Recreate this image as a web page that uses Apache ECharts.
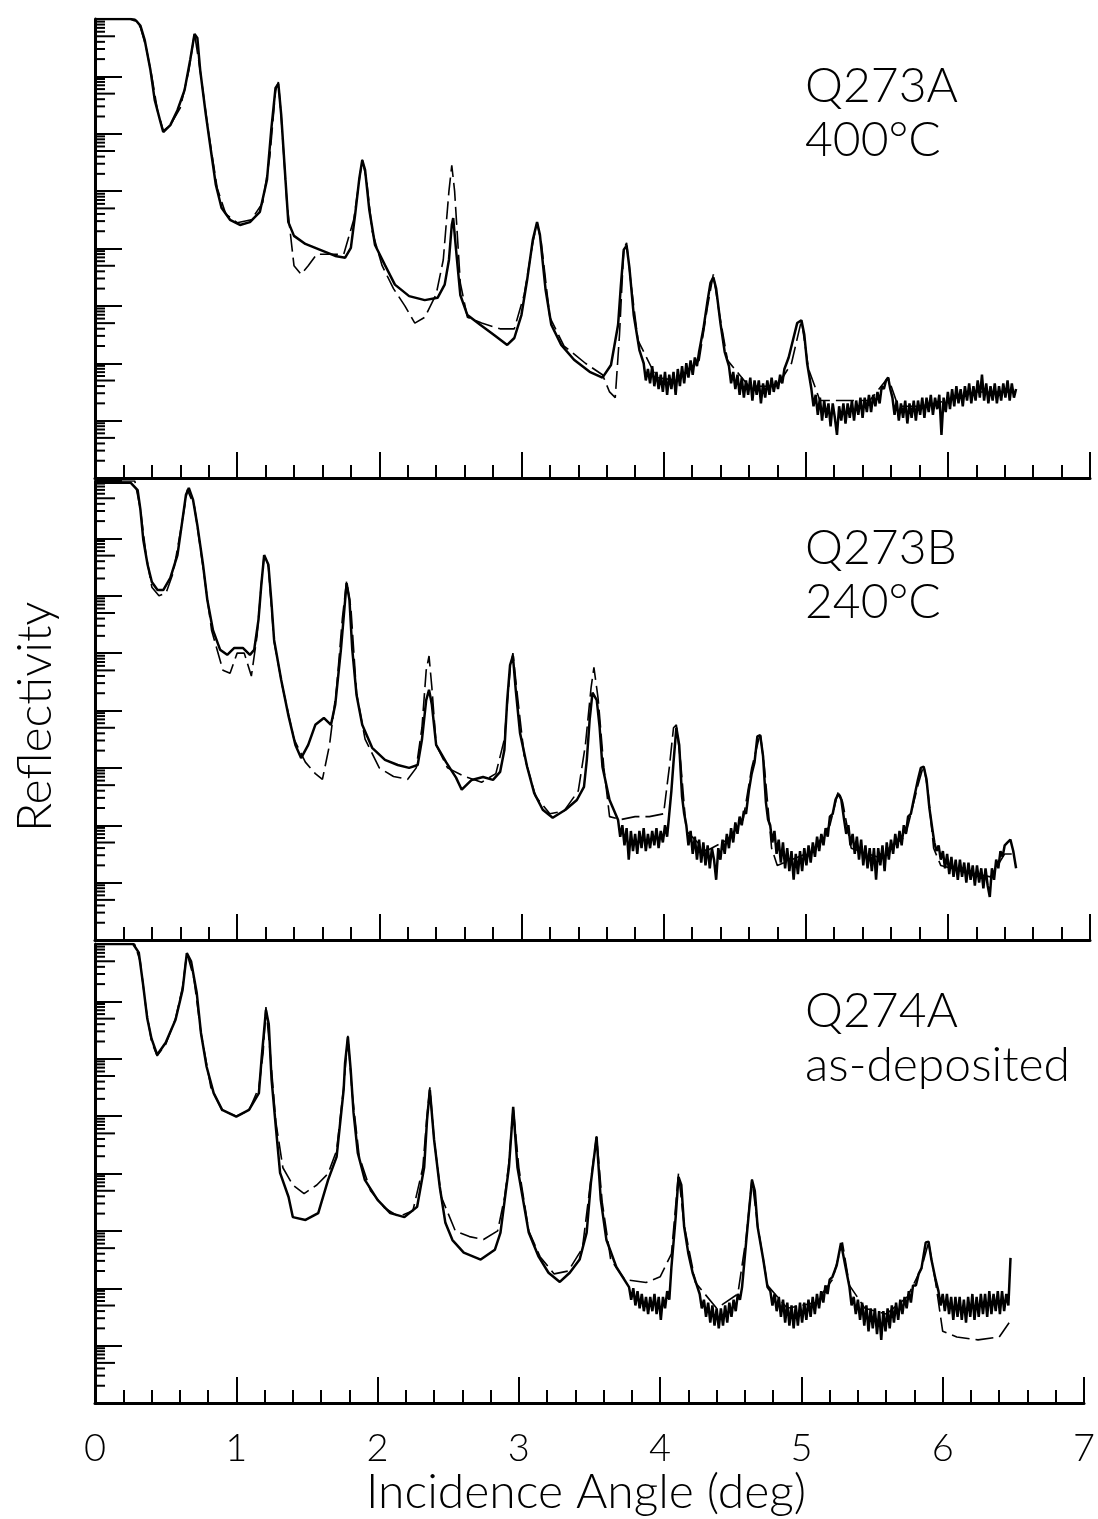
<!DOCTYPE html>
<html>
<head>
<meta charset="utf-8">
<script src="https://cdn.jsdelivr.net/npm/echarts@6/dist/echarts.min.js"></script>
<style>
  html, body { margin: 0; padding: 0; background: #fff; }
  #chart { width: 1098px; height: 1519px; }
</style>
</head>
<body>
<div id="chart"></div>
<script>
// values are log10(reflectivity), x in degrees

var xTickLabels = ['0', '1', '2', '3', '4', '5', '6', '7'];
var sampleNames = ['Q273A', 'Q273B', 'Q274A'];
var sampleNotes = ['400°C', '240°C', 'as-deposited'];

// Q273A 400C - measured
var q273aData = [
  [0.00,0.00],[0.14,0.00],[0.25,0.00],[0.29,-0.03],[0.32,-0.12],[0.35,-0.37],[0.39,-0.89],[0.42,-1.41],[0.46,-1.79],[0.48,-1.97],
  [0.53,-1.85],[0.58,-1.59],[0.63,-1.24],[0.67,-0.71],[0.70,-0.26],[0.72,-0.33],[0.74,-0.89],[0.78,-1.67],[0.82,-2.37],[0.85,-2.89],
  [0.89,-3.29],[0.95,-3.50],[1.02,-3.59],[1.09,-3.54],[1.16,-3.36],[1.21,-2.80],[1.24,-1.93],[1.27,-1.20],[1.29,-1.13],[1.31,-1.67],
  [1.34,-2.80],[1.36,-3.54],[1.40,-3.78],[1.48,-3.92],[1.58,-4.02],[1.69,-4.13],[1.76,-4.16],[1.80,-3.99],[1.83,-3.41],[1.86,-2.77],
  [1.88,-2.46],[1.90,-2.63],[1.93,-3.33],[1.97,-3.94],[2.04,-4.29],[2.11,-4.63],[2.21,-4.83],[2.32,-4.90],[2.41,-4.86],[2.46,-4.63],
  [2.49,-4.20],[2.51,-3.59],[2.52,-3.47],[2.54,-4.02],[2.57,-4.81],[2.62,-5.16],[2.71,-5.33],[2.81,-5.51],[2.90,-5.68],[2.95,-5.56],
  [3.00,-5.16],[3.04,-4.55],[3.08,-3.85],[3.11,-3.54],[3.13,-3.76],[3.17,-4.72],[3.21,-5.33],[3.28,-5.68],[3.37,-5.94],[3.48,-6.15],
  [3.57,-6.25],[3.63,-6.03],[3.68,-5.33],[3.70,-4.63],[3.72,-4.02],[3.74,-3.95],[3.76,-4.34],[3.79,-5.16],[3.83,-5.77],
  [3.86,-6.00],[3.875,-6.30],[3.89,-6.10],[3.905,-6.35],[3.92,-6.05],[3.935,-6.40],[3.95,-6.15],[3.965,-6.45],[3.98,-6.20],[3.995,-6.50],
  [4.01,-6.15],[4.025,-6.55],[4.04,-6.20],[4.055,-6.45],[4.07,-6.15],[4.085,-6.55],[4.10,-6.10],[4.115,-6.40],[4.13,-6.05],[4.145,-6.35],
  [4.16,-6.00],[4.175,-6.25],[4.19,-5.95],[4.205,-6.20],[4.22,-5.90],[4.235,-6.05],[4.25,-5.80],[4.28,-5.40],[4.31,-4.90],[4.33,-4.60],
  [4.35,-4.50],[4.37,-4.70],[4.40,-5.30],[4.43,-5.80],
  [4.46,-6.05],[4.475,-6.35],[4.49,-6.15],[4.505,-6.45],[4.52,-6.20],[4.535,-6.55],[4.55,-6.25],[4.565,-6.60],[4.58,-6.30],[4.595,-6.55],
  [4.61,-6.25],[4.625,-6.65],[4.64,-6.30],[4.655,-6.55],[4.67,-6.30],[4.685,-6.70],[4.70,-6.35],[4.715,-6.60],[4.73,-6.30],[4.745,-6.55],
  [4.76,-6.25],[4.775,-6.50],[4.79,-6.30],[4.805,-6.45],[4.82,-6.20],[4.835,-6.35],[4.85,-6.10],[4.88,-5.90],[4.91,-5.60],[4.94,-5.30],
  [4.97,-5.25],[4.99,-5.50],[5.01,-6.00],
  [5.04,-6.45],[5.055,-6.75],[5.07,-6.55],[5.085,-6.90],[5.10,-6.60],[5.115,-7.00],[5.13,-6.65],[5.145,-6.95],[5.16,-6.70],[5.175,-7.10],
  [5.19,-6.70],[5.205,-6.95],[5.22,-7.25],[5.235,-6.75],[5.25,-7.00],[5.265,-6.70],[5.28,-7.05],[5.295,-6.70],[5.31,-6.95],[5.325,-6.65],
  [5.34,-7.00],[5.355,-6.65],[5.37,-6.90],[5.385,-6.60],[5.40,-6.95],[5.415,-6.60],[5.43,-6.85],[5.445,-6.55],[5.46,-6.85],[5.475,-6.55],
  [5.49,-6.75],[5.505,-6.50],[5.52,-6.70],[5.535,-6.40],[5.55,-6.45],[5.565,-6.30],[5.58,-6.25],[5.595,-6.45],[5.61,-6.60],[5.625,-6.90],
  [5.64,-6.65],[5.655,-7.00],[5.67,-6.70],[5.685,-6.95],[5.70,-6.65],[5.715,-7.05],[5.73,-6.70],[5.745,-6.95],[5.76,-6.65],[5.775,-7.00],
  [5.79,-6.65],[5.805,-6.90],[5.82,-6.60],[5.835,-6.95],[5.85,-6.60],[5.865,-6.85],[5.88,-6.55],[5.895,-6.90],[5.91,-6.60],[5.925,-6.80],
  [5.94,-6.55],[5.955,-7.25],[5.97,-6.60],[5.985,-6.85],[6.00,-6.50],[6.015,-6.80],[6.03,-6.45],[6.045,-6.75],[6.06,-6.40],[6.075,-6.70],
  [6.09,-6.45],[6.105,-6.75],[6.12,-6.40],[6.135,-6.65],[6.15,-6.35],[6.165,-6.70],[6.18,-6.40],[6.195,-6.65],[6.21,-6.30],[6.225,-6.60],
  [6.24,-6.20],[6.255,-6.65],[6.27,-6.35],[6.285,-6.70],[6.30,-6.40],[6.315,-6.65],[6.33,-6.35],[6.345,-6.70],[6.36,-6.40],[6.375,-6.65],
  [6.39,-6.35],[6.405,-6.60],[6.42,-6.30],[6.435,-6.65],[6.45,-6.35],[6.465,-6.60],[6.48,-6.45]
];

// Q273A 400C - fit
var q273aFit = [
  [0.00,0.00],[0.28,0.00],[0.32,-0.15],[0.36,-0.50],[0.40,-1.00],[0.44,-1.60],[0.48,-1.95],[0.53,-1.85],[0.60,-1.55],[0.66,-0.90],
  [0.70,-0.25],[0.74,-0.90],[0.80,-2.00],[0.86,-2.95],[0.92,-3.40],[1.00,-3.55],[1.10,-3.50],[1.18,-3.20],[1.23,-2.40],[1.27,-1.25],
  [1.29,-1.10],[1.31,-1.70],[1.35,-3.20],[1.40,-4.30],[1.45,-4.45],[1.50,-4.30],[1.56,-4.10],[1.65,-4.10],[1.75,-4.10],[1.82,-3.50],
  [1.86,-2.80],[1.88,-2.45],[1.91,-2.80],[1.95,-3.70],[2.02,-4.30],[2.10,-4.70],[2.18,-5.00],[2.25,-5.30],[2.32,-5.20],[2.40,-4.80],
  [2.45,-4.20],[2.49,-3.00],[2.51,-2.55],[2.53,-3.00],[2.57,-4.60],[2.62,-5.20],[2.72,-5.30],[2.85,-5.40],[2.95,-5.40],[3.02,-4.80],
  [3.08,-3.90],[3.11,-3.55],[3.14,-3.90],[3.20,-5.20],[3.30,-5.70],[3.45,-6.00],[3.57,-6.20],[3.62,-6.50],[3.66,-6.60],[3.69,-5.50],
  [3.72,-4.00],[3.74,-3.90],[3.77,-4.60],[3.82,-5.60],[3.95,-6.25],[4.10,-6.30],[4.25,-5.95],[4.31,-5.00],[4.35,-4.45],[4.39,-5.10],
  [4.45,-5.95],[4.60,-6.40],[4.80,-6.40],[4.90,-6.00],[4.97,-5.25],[5.02,-6.10],[5.10,-6.65],[5.20,-6.65],[5.30,-6.65],[5.45,-6.65],
  [5.58,-6.25],[5.65,-6.75],[5.80,-6.75],[6.00,-6.65],[6.20,-6.50],[6.47,-6.50]
];

// Q273B 240C - measured
var q273bData = [
  [0.00,-0.03],[0.25,-0.03],[0.30,-0.16],[0.32,-0.51],[0.34,-1.03],[0.37,-1.46],[0.40,-1.76],[0.44,-1.90],[0.48,-1.90],[0.53,-1.69],
  [0.58,-1.29],[0.61,-0.77],[0.64,-0.24],[0.66,-0.12],[0.69,-0.33],[0.72,-0.77],[0.76,-1.46],[0.79,-2.07],[0.83,-2.60],[0.88,-2.94],
  [0.93,-3.03],[0.98,-2.91],[1.04,-2.91],[1.09,-3.03],[1.12,-2.94],[1.15,-2.42],[1.17,-1.81],[1.19,-1.29],[1.22,-1.46],[1.24,-2.07],
  [1.26,-2.77],[1.31,-3.47],[1.36,-4.08],[1.41,-4.60],[1.45,-4.83],[1.50,-4.60],[1.55,-4.25],[1.61,-4.13],[1.66,-4.25],[1.69,-3.90],
  [1.73,-2.94],[1.76,-2.07],[1.77,-1.78],[1.79,-2.07],[1.81,-2.94],[1.84,-3.73],[1.88,-4.25],[1.95,-4.65],[2.04,-4.86],[2.13,-4.95],
  [2.21,-5.00],[2.27,-4.95],[2.30,-4.51],[2.33,-3.82],[2.35,-3.64],[2.37,-3.90],[2.40,-4.60],[2.47,-4.90],[2.54,-5.17],[2.58,-5.38],
  [2.65,-5.21],[2.73,-5.16],[2.80,-5.21],[2.85,-5.07],[2.88,-4.69],[2.90,-3.82],[2.92,-3.21],[2.94,-3.05],[2.96,-3.64],[2.99,-4.39],
  [3.04,-4.98],[3.09,-5.44],[3.15,-5.73],[3.22,-5.87],[3.31,-5.73],[3.39,-5.56],[3.44,-5.33],[3.46,-4.86],[3.48,-4.16],[3.50,-3.69],
  [3.53,-3.82],[3.55,-4.29],[3.57,-4.98],[3.62,-5.56],
  [3.68,-5.91],[3.695,-6.20],[3.71,-6.00],[3.725,-6.35],[3.74,-6.05],[3.755,-6.60],[3.77,-6.10],[3.785,-6.45],[3.80,-6.15],[3.815,-6.50],
  [3.83,-6.10],[3.845,-6.40],[3.86,-6.05],[3.875,-6.45],[3.89,-6.15],[3.905,-6.40],[3.92,-6.10],[3.935,-6.35],[3.95,-6.05],[3.965,-6.40],
  [3.98,-6.10],[3.995,-6.30],[4.01,-6.00],[4.025,-6.20],[4.04,-5.80],[4.055,-5.40],[4.07,-4.90],[4.09,-4.30],[4.11,-4.60],[4.13,-5.50],
  [4.145,-5.80],
  [4.16,-6.00],[4.175,-6.35],[4.19,-6.10],[4.205,-6.50],[4.22,-6.20],[4.235,-6.60],[4.25,-6.25],[4.265,-6.65],[4.28,-6.30],[4.295,-6.70],
  [4.31,-6.35],[4.325,-6.75],[4.34,-6.40],[4.355,-6.60],[4.37,-6.95],[4.385,-6.40],[4.40,-6.60],[4.415,-6.25],[4.43,-6.50],[4.445,-6.15],
  [4.46,-6.40],[4.475,-6.05],[4.49,-6.30],[4.505,-5.95],[4.52,-6.15],[4.535,-5.85],[4.55,-6.00],[4.565,-5.75],[4.58,-5.80],[4.60,-5.40],
  [4.62,-5.10],[4.64,-4.90],[4.66,-4.45],[4.68,-4.43],[4.70,-4.80],[4.72,-5.60],[4.735,-5.90],
  [4.75,-6.00],[4.765,-6.30],[4.78,-6.10],[4.795,-6.50],[4.81,-6.25],[4.825,-6.65],[4.84,-6.30],[4.855,-6.75],[4.87,-6.40],[4.885,-6.80],
  [4.90,-6.45],[4.915,-6.95],[4.93,-6.50],[4.945,-6.85],[4.96,-6.45],[4.975,-6.80],[4.99,-6.40],[5.005,-6.70],[5.02,-6.35],[5.035,-6.65],
  [5.05,-6.30],[5.065,-6.55],[5.08,-6.20],[5.095,-6.45],[5.11,-6.15],[5.125,-6.35],[5.14,-6.05],[5.155,-6.20],[5.17,-5.85],[5.19,-5.80],
  [5.21,-5.55],[5.23,-5.45],[5.25,-5.55],[5.27,-5.90],[5.285,-6.15],
  [5.30,-6.00],[5.315,-6.35],[5.33,-6.15],[5.345,-6.50],[5.36,-6.20],[5.375,-6.60],[5.39,-6.25],[5.405,-6.70],[5.42,-6.35],[5.435,-6.75],
  [5.45,-6.40],[5.465,-6.80],[5.48,-6.40],[5.495,-6.95],[5.51,-6.40],[5.525,-6.70],[5.54,-6.35],[5.555,-6.80],[5.57,-6.30],[5.585,-6.60],
  [5.60,-6.25],[5.615,-6.50],[5.63,-6.15],[5.645,-6.40],[5.66,-6.10],[5.675,-6.35],[5.69,-6.00],[5.705,-6.15],[5.72,-5.85],[5.74,-5.80],
  [5.76,-5.55],[5.79,-5.20],[5.81,-5.00],[5.83,-4.98],[5.85,-5.20],[5.87,-5.70],[5.89,-6.05],
  [5.905,-6.30],[5.92,-6.45],[5.935,-6.35],[5.95,-6.60],[5.965,-6.45],[5.98,-6.75],[5.995,-6.50],[6.01,-6.85],[6.025,-6.55],[6.04,-6.90],
  [6.055,-6.60],[6.07,-6.95],[6.085,-6.60],[6.10,-6.90],[6.115,-6.65],[6.13,-7.00],[6.145,-6.65],[6.16,-6.95],[6.175,-6.70],[6.19,-7.05],
  [6.205,-6.70],[6.22,-7.00],[6.235,-6.75],[6.25,-7.10],[6.265,-6.75],[6.28,-7.05],[6.295,-7.25],[6.31,-6.75],[6.325,-6.95],[6.34,-6.60],
  [6.355,-6.75],[6.37,-6.45],[6.385,-6.55],[6.40,-6.35],[6.42,-6.30],[6.44,-6.25],[6.46,-6.45],[6.48,-6.75]
];

// Q273B 240C - fit
var q273bFit = [
  [0.00,0.00],[0.28,0.00],[0.32,-0.50],[0.36,-1.30],[0.40,-1.85],[0.45,-2.00],[0.50,-1.95],[0.55,-1.60],[0.60,-0.90],[0.65,-0.15],
  [0.70,-0.45],[0.76,-1.50],[0.82,-2.60],[0.90,-3.30],[0.95,-3.35],[1.00,-3.00],[1.05,-3.00],[1.10,-3.40],[1.14,-2.70],[1.17,-1.80],
  [1.19,-1.30],[1.22,-1.50],[1.26,-2.80],[1.32,-3.60],[1.40,-4.50],[1.48,-4.90],[1.55,-5.10],[1.60,-5.20],[1.65,-4.60],[1.70,-3.60],
  [1.74,-2.40],[1.77,-1.75],[1.80,-2.20],[1.84,-3.70],[1.90,-4.50],[2.00,-5.00],[2.10,-5.15],[2.20,-5.20],[2.26,-5.00],[2.30,-4.30],
  [2.33,-3.30],[2.35,-3.05],[2.37,-3.60],[2.40,-4.60],[2.48,-5.00],[2.60,-5.15],[2.72,-5.25],[2.82,-5.10],[2.88,-4.50],[2.92,-3.30],
  [2.94,-3.00],[2.97,-3.70],[3.02,-4.80],[3.10,-5.50],[3.20,-5.80],[3.30,-5.75],[3.40,-5.40],[3.45,-4.60],[3.49,-3.60],[3.51,-3.25],
  [3.54,-3.80],[3.58,-5.00],[3.62,-5.85],[3.70,-5.90],[3.80,-5.85],[3.90,-5.85],[4.00,-5.80],[4.04,-5.00],[4.07,-4.30],[4.09,-4.25],
  [4.12,-4.90],[4.16,-6.10],[4.30,-6.45],[4.45,-6.25],[4.56,-5.90],[4.62,-5.00],[4.68,-4.40],[4.71,-5.00],[4.76,-6.40],[4.80,-6.70],
  [4.90,-6.60],[5.05,-6.45],[5.17,-6.00],[5.23,-5.40],[5.26,-5.60],[5.32,-6.40],[5.50,-6.55],[5.70,-6.20],[5.79,-5.30],[5.83,-4.95],
  [5.86,-5.40],[5.90,-6.40],[5.95,-6.70],[6.10,-6.80],[6.30,-6.90],[6.40,-6.50],[6.47,-6.50]
];

// Q274A as-deposited - measured
var q274aData = [
  [0.00,0.00],[0.27,0.00],[0.31,-0.15],[0.34,-0.70],[0.37,-1.30],[0.40,-1.65],[0.44,-1.93],[0.50,-1.72],[0.57,-1.32],[0.62,-0.80],
  [0.65,-0.16],[0.68,-0.30],[0.72,-0.85],[0.75,-1.55],[0.79,-2.14],[0.84,-2.60],[0.90,-2.89],[1.00,-3.01],[1.09,-2.89],[1.16,-2.60],
  [1.18,-1.97],[1.21,-1.15],[1.23,-1.40],[1.25,-2.37],[1.28,-3.19],[1.31,-3.99],[1.37,-4.41],[1.40,-4.76],[1.49,-4.81],[1.58,-4.69],
  [1.65,-4.11],[1.71,-3.71],[1.76,-2.54],[1.77,-2.07],[1.79,-1.62],[1.81,-2.20],[1.83,-2.94],[1.86,-3.64],[1.91,-4.11],[2.00,-4.46],
  [2.09,-4.69],[2.19,-4.76],[2.28,-4.58],[2.33,-3.89],[2.35,-3.07],[2.37,-2.54],[2.40,-3.41],[2.44,-4.23],[2.48,-4.86],[2.53,-5.16],
  [2.61,-5.38],[2.73,-5.50],[2.83,-5.33],[2.87,-5.03],[2.90,-4.46],[2.93,-3.89],[2.96,-2.84],[2.99,-3.89],[3.03,-4.46],[3.07,-5.03],
  [3.14,-5.45],[3.21,-5.73],[3.29,-5.89],[3.36,-5.73],[3.43,-5.50],[3.48,-5.03],[3.51,-4.16],[3.55,-3.36],[3.58,-4.46],[3.62,-5.16],
  [3.69,-5.63],
  [3.78,-5.98],[3.795,-6.20],[3.81,-6.00],[3.825,-6.30],[3.84,-6.05],[3.855,-6.35],[3.87,-6.10],[3.885,-6.40],[3.90,-6.15],[3.915,-6.45],
  [3.93,-6.15],[3.945,-6.40],[3.96,-6.10],[3.975,-6.45],[3.99,-6.15],[4.005,-6.55],[4.02,-6.15],[4.035,-6.35],[4.05,-6.05],[4.065,-6.20],
  [4.08,-5.63],[4.11,-4.76],[4.13,-4.06],[4.15,-4.20],[4.17,-4.93],[4.20,-5.40],[4.23,-5.73],[4.26,-5.95],
  [4.28,-6.10],[4.295,-6.35],[4.31,-6.20],[4.325,-6.50],[4.34,-6.25],[4.355,-6.60],[4.37,-6.30],[4.385,-6.65],[4.40,-6.35],[4.415,-6.70],
  [4.43,-6.35],[4.445,-6.65],[4.46,-6.30],[4.475,-6.60],[4.49,-6.25],[4.505,-6.50],[4.52,-6.20],[4.535,-6.40],[4.55,-6.10],[4.565,-6.20],
  [4.58,-5.98],[4.61,-5.16],[4.65,-4.11],[4.67,-4.30],[4.69,-4.93],[4.73,-5.50],[4.76,-5.98],
  [4.78,-6.05],[4.795,-6.30],[4.81,-6.10],[4.825,-6.40],[4.84,-6.15],[4.855,-6.50],[4.87,-6.20],[4.885,-6.60],[4.90,-6.25],[4.915,-6.65],
  [4.93,-6.30],[4.945,-6.70],[4.96,-6.30],[4.975,-6.65],[4.99,-6.25],[5.005,-6.60],[5.02,-6.25],[5.035,-6.55],[5.05,-6.20],[5.065,-6.50],
  [5.08,-6.15],[5.095,-6.45],[5.11,-6.10],[5.125,-6.35],[5.14,-6.05],[5.155,-6.25],[5.17,-5.95],[5.185,-6.10],[5.20,-5.85],[5.22,-5.80],
  [5.25,-5.60],[5.28,-5.21],[5.31,-5.60],[5.34,-5.98],
  [5.355,-6.30],[5.37,-6.15],[5.385,-6.45],[5.40,-6.20],[5.415,-6.55],[5.43,-6.25],[5.445,-6.65],[5.46,-6.30],[5.475,-6.75],[5.49,-6.35],
  [5.505,-6.70],[5.52,-6.35],[5.535,-6.80],[5.55,-6.40],[5.565,-6.90],[5.58,-6.40],[5.595,-6.75],[5.61,-6.35],[5.625,-6.70],[5.64,-6.30],
  [5.655,-6.60],[5.67,-6.25],[5.685,-6.55],[5.70,-6.20],[5.715,-6.45],[5.73,-6.15],[5.745,-6.35],[5.76,-6.05],[5.775,-6.25],[5.79,-5.95],
  [5.81,-5.95],[5.83,-5.75],[5.85,-5.65],[5.88,-5.20],[5.90,-5.19],[5.92,-5.50],[5.95,-5.85],
  [5.97,-6.05],[5.985,-6.30],[6.00,-6.10],[6.015,-6.40],[6.03,-6.10],[6.045,-6.45],[6.06,-6.15],[6.075,-6.55],[6.09,-6.15],[6.105,-6.50],
  [6.12,-6.15],[6.135,-6.55],[6.15,-6.20],[6.165,-6.60],[6.18,-6.15],[6.195,-6.50],[6.21,-6.10],[6.225,-6.55],[6.24,-6.15],[6.255,-6.50],
  [6.27,-6.10],[6.285,-6.45],[6.30,-6.10],[6.315,-6.50],[6.33,-6.05],[6.345,-6.45],[6.36,-6.10],[6.375,-6.40],[6.39,-6.05],[6.405,-6.45],
  [6.42,-6.05],[6.435,-6.40],[6.45,-6.10],[6.465,-6.30],[6.48,-5.47]
];

// Q274A as-deposited - fit
var q274aFit = [
  [0.00,0.00],[0.28,0.00],[0.32,-0.30],[0.36,-1.10],[0.40,-1.70],[0.44,-1.95],[0.50,-1.75],[0.57,-1.30],[0.62,-0.75],[0.65,-0.15],
  [0.70,-0.60],[0.75,-1.55],[0.82,-2.50],[0.90,-2.90],[1.00,-3.00],[1.09,-2.90],[1.16,-2.50],[1.19,-1.90],[1.21,-1.10],[1.24,-1.90],
  [1.28,-3.10],[1.33,-3.90],[1.40,-4.20],[1.48,-4.35],[1.57,-4.20],[1.65,-4.00],[1.71,-3.60],[1.76,-2.50],[1.79,-1.60],[1.82,-2.60],
  [1.87,-3.70],[1.95,-4.30],[2.05,-4.60],[2.15,-4.75],[2.25,-4.65],[2.32,-3.90],[2.35,-3.00],[2.37,-2.50],[2.40,-3.40],[2.45,-4.40],
  [2.55,-5.00],[2.65,-5.10],[2.75,-5.15],[2.85,-5.00],[2.90,-4.40],[2.93,-3.80],[2.96,-2.85],[3.00,-3.90],[3.07,-5.00],[3.15,-5.45],
  [3.25,-5.75],[3.35,-5.70],[3.45,-5.30],[3.50,-4.30],[3.55,-3.35],[3.59,-4.50],[3.65,-5.50],[3.75,-5.85],[3.90,-5.90],[4.00,-5.80],
  [4.08,-5.40],[4.13,-4.00],[4.17,-4.90],[4.25,-5.90],[4.40,-6.35],[4.55,-6.10],[4.61,-5.10],[4.65,-4.10],[4.69,-4.90],[4.76,-5.95],
  [4.90,-6.35],[5.10,-6.25],[5.22,-5.85],[5.29,-5.20],[5.34,-5.95],[5.45,-6.35],[5.60,-6.45],[5.75,-6.15],[5.85,-5.65],[5.90,-5.20],
  [5.95,-5.90],[6.00,-6.75],[6.10,-6.85],[6.25,-6.90],[6.40,-6.85],[6.47,-6.60]
];

var dataSets = [q273aData, q273bData, q274aData];
var fitSets = [q273aFit, q273bFit, q274aFit];

// minor log ticks on the reflectivity axis: [x, log10 value, mantissa]
var yMinorTicks = [];
for (var n = -8; n < 0; n++) {
  for (var k = 2; k <= 9; k++) {
    yMinorTicks.push([0, n + Math.log10(k), k]);
  }
}

var panelTops = [19, 481, 944];
var panelHeight = 459;
var textFont = 'Lato, "Liberation Sans", sans-serif';

var chart = echarts.init(document.getElementById('chart'));

var grids = [], xAxes = [], yAxes = [], series = [], graphics = [];

for (var i = 0; i < 3; i++) {
  grids.push({ left: 95, right: 8, top: panelTops[i], height: panelHeight });

  xAxes.push({
    type: 'value', gridIndex: i, min: 0, max: 7, interval: 1,
    axisLine: { show: true, onZero: false, lineStyle: { color: '#000', width: 3 } },
    axisTick: { show: true, inside: true, length: 26, lineStyle: { color: '#000', width: 2 } },
    minorTick: { show: true, splitNumber: 5, length: 13, lineStyle: { color: '#000', width: 2 } },
    splitLine: { show: false },
    axisLabel: {
      show: i === 2, margin: 27, color: '#000', fontSize: 38, fontFamily: textFont, fontWeight: 300,
      formatter: function (v) { return xTickLabels[Math.round(v)]; }
    }
  });

  yAxes.push({
    type: 'value', gridIndex: i, min: -8, max: 0, interval: 1,
    axisLine: { show: true, onZero: false, lineStyle: { color: '#000', width: 3 } },
    axisTick: { show: true, inside: true, length: 27, lineStyle: { color: '#000', width: 2 } },
    axisLabel: { show: false },
    splitLine: { show: false }
  });

  series.push({
    type: 'line', xAxisIndex: i, yAxisIndex: i, data: fitSets[i],
    showSymbol: false, silent: true,
    lineStyle: { color: '#000', width: 1.6, type: [18, 6] }
  });
  series.push({
    type: 'line', xAxisIndex: i, yAxisIndex: i, data: dataSets[i],
    showSymbol: false, silent: true,
    lineStyle: { color: '#000', width: 2.5 }
  });
  series.push({
    type: 'custom', xAxisIndex: i, yAxisIndex: i, data: yMinorTicks,
    encode: { x: 0, y: 1 }, clip: false, silent: true,
    renderItem: function (params, api) {
      var p = api.coord([0, api.value(1)]);
      var len = api.value(2) === 5 ? 20 : 10;
      return {
        type: 'line',
        shape: { x1: p[0], y1: p[1], x2: p[0] + len, y2: p[1] },
        style: { stroke: '#000', lineWidth: 2 }
      };
    }
  });

  graphics.push({
    type: 'text', left: 805, top: panelTops[i] + 44,
    style: { text: sampleNames[i], font: '300 48px ' + textFont, fill: '#000' }
  });
  graphics.push({
    type: 'text', left: 805, top: panelTops[i] + 98,
    style: { text: sampleNotes[i], font: '300 48px ' + textFont, fill: '#000' }
  });
}

graphics.push({
  type: 'text', left: 366, top: 1469,
  style: { text: 'Incidence Angle (deg)', font: '300 48px ' + textFont, fill: '#000' }
});
graphics.push({
  type: 'text', x: 12, y: 832, rotation: Math.PI / 2,
  style: { text: 'Reflectivity', font: '300 48px ' + textFont, fill: '#000' }
});

chart.setOption({
  animation: false,
  backgroundColor: '#fff',
  grid: grids,
  xAxis: xAxes,
  yAxis: yAxes,
  series: series,
  graphic: graphics
});
</script>
</body>
</html>
